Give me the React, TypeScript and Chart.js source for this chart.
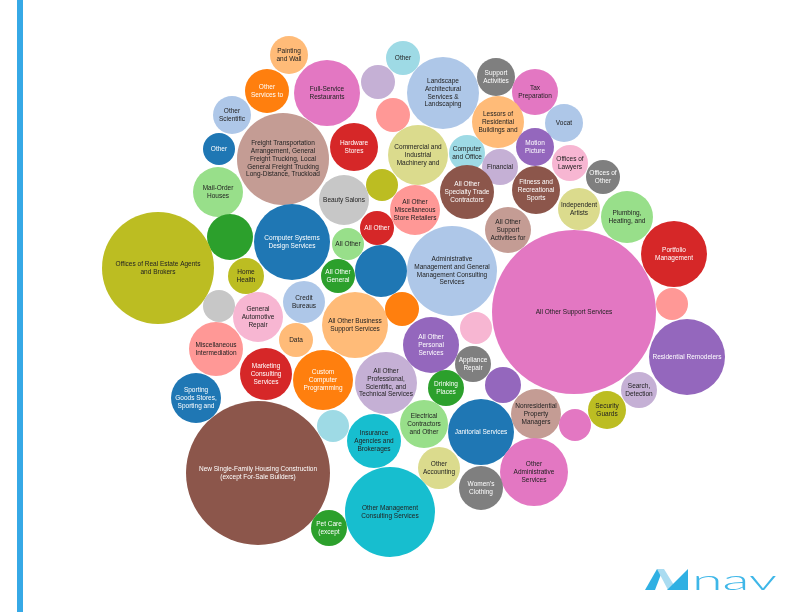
import React, { useEffect, useRef } from "react";
import { Chart, registerables } from "chart.js";

Chart.register(...registerables);

// Industry labels ("|" separates lines)
const industries: string[] = [
  "Painting|and Wall", "Other", "Other|Services to", "Full-Service|Restaurants", "",
  "Landscape|Architectural|Services &|Landscaping", "Support|Activities", "Tax|Preparation", "Other|Scientific", "",
  "Freight Transportation|Arrangement, General|Freight Trucking, Local|General Freight Trucking|Long-Distance, Truckload",
  "Lessors of|Residential|Buildings and", "Vocat", "Other", "Hardware|Stores",
  "Commercial and|Industrial|Machinery and", "Computer|and Office", "Motion|Picture", "Financial", "Offices of|Lawyers",
  "Offices of|Other", "Mail-Order|Houses", "", "Beauty Salons", "All Other|Miscellaneous|Store Retailers",
  "All Other|Specialty Trade|Contractors", "Fitness and|Recreational|Sports", "Independent|Artists", "Plumbing,|Heating, and", "",
  "Computer Systems|Design Services", "All Other", "All Other", "All Other|Support|Activities for",
  "Offices of Real Estate Agents|and Brokers", "Home|Health", "All Other|General", "",
  "Administrative|Management and General|Management Consulting|Services", "All Other Support Services",
  "Portfolio|Management", "Credit|Bureaus", "", "General|Automotive|Repair", "All Other Business|Support Services",
  "", "", "", "Data", "Miscellaneous|Intermediation", "All Other|Personal|Services", "Residential Remodelers",
  "Marketing|Consulting|Services", "Custom|Computer|Programming",
  "All Other|Professional,|Scientific, and|Technical Services", "Appliance|Repair", "", "Search,|Detection",
  "Sporting|Goods Stores,|Sporting and", "Drinking|Places", "Nonresidential|Property|Managers", "Security|Guards", "",
  "New Single-Family Housing Construction|(except For-Sale Builders)", "", "Electrical|Contractors|and Other",
  "Janitorial Services", "Insurance|Agencies and|Brokerages", "Other|Accounting", "Other|Administrative|Services",
  "Women's|Clothing", "Other Management|Consulting Services", "Pet Care|(except",
];

// Packed-layout coordinates and bubble sizes
const packX: number[] = [
  289, 403, 267, 327, 378, 443, 496, 535, 232, 393,
  283, 498, 564, 219, 354, 418, 467, 535, 500, 570,
  603, 218, 382, 344, 415, 467, 536, 579, 627, 230,
  292, 377, 348, 508, 158, 246, 338, 381, 452, 574,
  674, 304, 219, 258, 355, 402, 672, 476, 296, 216,
  431, 687, 266, 323, 386, 473, 503, 639, 196, 446,
  536, 607, 575, 258, 333, 424, 481, 374, 439, 534,
  481, 390, 329,
];
const packY: number[] = [
  55, 58, 91, 93, 82, 93, 77, 92, 115, 115,
  159, 122, 123, 149, 147, 155, 153, 147, 167, 163,
  177, 192, 185, 200, 210, 192, 190, 209, 217, 237,
  242, 228, 244, 230, 268, 276, 276, 271, 271, 312,
  254, 302, 306, 317, 325, 309, 304, 328, 340, 349,
  345, 357, 374, 380, 383, 364, 385, 390, 398, 388,
  414, 410, 425, 473, 426, 424, 432, 441, 468, 472,
  488, 512, 528,
];
const sizes: number[] = [
  19, 17, 22, 33, 17, 36, 19, 23, 19, 17,
  46, 26, 19, 16, 24, 30, 18, 19, 18, 18,
  17, 25, 16, 25, 25, 27, 24, 21, 26, 23,
  38, 17, 16, 23, 56, 18, 17, 26, 45, 82,
  33, 21, 16, 25, 33, 17, 16, 16, 17, 27,
  28, 38, 26, 30, 31, 18, 18, 18, 25, 18,
  25, 19, 16, 72, 16, 24, 33, 27, 21, 34,
  22, 45, 18,
];

const P = {
  blue: "#1f77b4", lblue: "#aec7e8", orange: "#ff7f0e", lorange: "#ffbb78",
  green: "#2ca02c", lgreen: "#98df8a", red: "#d62728", salmon: "#ff9896",
  purple: "#9467bd", lpurple: "#c5b0d5", brown: "#8c564b", lbrown: "#c49c94",
  pink: "#e377c2", lpink: "#f7b6d2", gray: "#7f7f7f", lgray: "#c7c7c7",
  olive: "#bcbd22", lolive: "#dbdb8d", cyan: "#17becf", lcyan: "#9edae5",
};

const bubbleColors: string[] = [
  P.lorange, P.lcyan, P.orange, P.pink, P.lpurple, P.lblue, P.gray, P.pink, P.lblue, P.salmon,
  P.lbrown, P.lorange, P.lblue, P.blue, P.red, P.lolive, P.lcyan, P.purple, P.lpurple, P.lpink,
  P.gray, P.lgreen, P.olive, P.lgray, P.salmon, P.brown, P.brown, P.lolive, P.lgreen, P.green,
  P.blue, P.red, P.lgreen, P.lbrown, P.olive, P.olive, P.green, P.blue, P.lblue, P.pink,
  P.red, P.lblue, P.lgray, P.lpink, P.lorange, P.orange, P.salmon, P.lpink, P.lorange, P.salmon,
  P.purple, P.purple, P.red, P.orange, P.lpurple, P.gray, P.purple, P.lpurple, P.blue, P.green,
  P.lbrown, P.olive, P.pink, P.brown, P.lcyan, P.lgreen, P.blue, P.cyan, P.lolive, P.pink,
  P.gray, P.cyan, P.green,
];

const DARK_BGS = [P.blue, P.orange, P.green, P.red, P.purple, P.brown, P.gray];

const labelPlugin = {
  id: "bubbleLabels",
  afterDatasetsDraw(chart: any) {
    const ctx = chart.ctx;
    const meta = chart.getDatasetMeta(0);
    ctx.save();
    ctx.textAlign = "center";
    ctx.textBaseline = "middle";
    ctx.font = "6.5px 'Liberation Sans', Arial, sans-serif";
    meta.data.forEach((el: any, i: number) => {
      const txt = industries[i];
      if (!txt) return;
      const lines = txt.split("|");
      const lh = 7.8;
      const y0 = el.y - ((lines.length - 1) * lh) / 2;
      ctx.fillStyle = DARK_BGS.includes(bubbleColors[i]) ? "#ffffff" : "#222222";
      lines.forEach((ln: string, k: number) => ctx.fillText(ln, el.x, y0 + k * lh));
    });
    ctx.restore();
  },
};

function BubbleChart() {
  const ref = useRef<HTMLCanvasElement | null>(null);
  useEffect(() => {
    if (!ref.current) return;
    const chart = new Chart(ref.current, {
      type: "bubble",
      data: {
        datasets: [
          {
            data: packX.map((x, i) => ({ x, y: packY[i], r: sizes[i] })),
            backgroundColor: bubbleColors,
            borderWidth: 0,
            hoverRadius: 0,
            clip: false,
          } as any,
        ],
      },
      options: {
        responsive: false,
        animation: false,
        events: [],
        layout: { padding: 0, autoPadding: false },
        plugins: { legend: { display: false }, tooltip: { enabled: false } },
        scales: {
          x: { type: "linear", min: 0, max: 792, display: false },
          y: { type: "linear", min: 0, max: 612, reverse: true, display: false },
        },
      } as any,
      plugins: [labelPlugin],
    });
    return () => chart.destroy();
  }, []);
  return <canvas ref={ref} width={792} height={612} style={{ position: "absolute", left: 0, top: 0 }} />;
}

export default function App() {
  return (
    <div style={{ position: "absolute", left: 0, top: 0, width: 792, height: 612, background: "#ffffff", overflow: "hidden" }}>
      <div style={{ position: "absolute", left: 17, top: 0, width: 6, height: 612, background: "#36a9e6" }} />
      <BubbleChart />
      <svg width={792} height={612} style={{ position: "absolute", left: 0, top: 0, pointerEvents: "none" }}>
        <polygon points="645,590 657,569 663,569 655,590" fill="#2fb0e3" />
        <polygon points="657,569 664,569 677,590 668,590" fill="#aadcf1" />
        <polygon points="667,590 688,569 688,590" fill="#2fb0e3" />
        <text x={692} y={590} fontFamily="Lato, 'Open Sans', sans-serif" fontWeight={300} fontSize={27}
          fill="#3fb7e8" textLength={85} lengthAdjust="spacingAndGlyphs">nav</text>
      </svg>
    </div>
  );
}
